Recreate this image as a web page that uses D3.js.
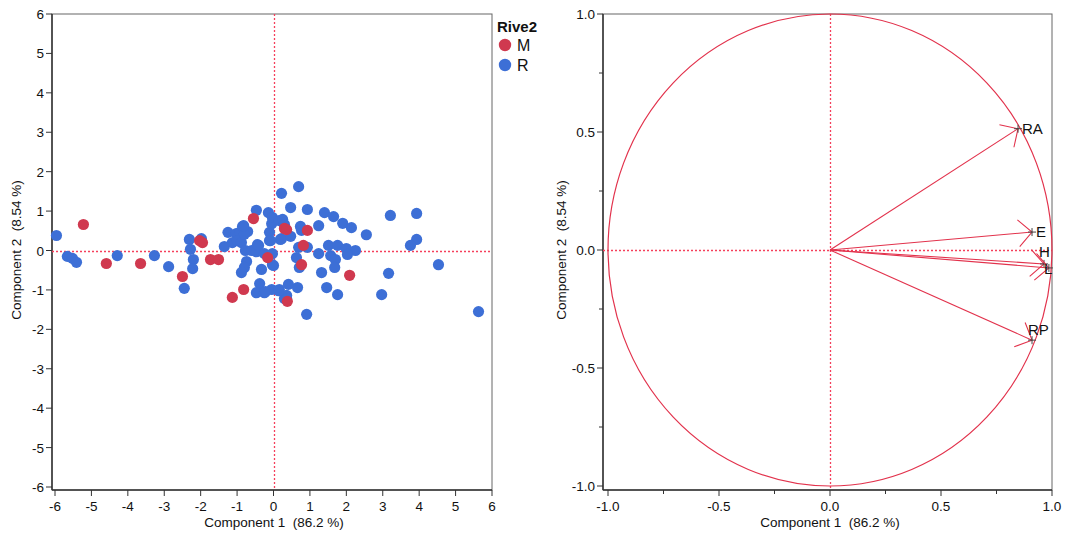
<!DOCTYPE html>
<html>
<head>
<meta charset="utf-8">
<script src="https://cdn.jsdelivr.net/npm/d3@7"></script>
<style>
  body { margin: 0; background: #fff; }
  text { font-family: "Liberation Sans", Arial, sans-serif; fill: #111; white-space: pre; }
</style>
</head>
<body>
<svg id="chart" width="1065" height="533"></svg>
<script>
// score plot data (Component 1, Component 2, Rive2)
var comp1 = [-5.96,-5.66,-5.52,-5.41,-4.29,-3.27,-2.88,-2.45,-2.31,-2.28,-1.98,-2.20,-2.22,-1.25,-1.35,-1.02,-0.93,-0.85,-0.71,-1.13,
  -0.99,-0.88,-0.80,-0.47,-0.14,0.22,-0.77,-0.60,-0.44,-0.47,-0.25,-0.03,-0.11,-0.11,-0.05,-0.03,0.16,0.22,-0.74,-0.80,
  -0.88,-0.33,0.00,-0.38,-0.47,-0.25,-0.05,0.16,0.30,0.69,0.47,0.93,1.40,1.65,1.90,2.14,2.55,3.21,3.93,3.93,
  3.76,4.53,5.63,3.16,2.97,1.24,0.74,0.77,0.47,0.19,0.25,0.30,-0.08,-0.41,0.69,0.93,1.51,1.76,2.00,2.25,
  2.03,1.24,1.57,1.70,0.63,0.71,1.32,1.68,-0.03,1.46,1.76,0.91,0.66,0.41,0.36,0.36,0.14,-0.22,-0.82,
  -5.22,-4.59,-3.65,-2.50,-2.03,-1.95,-1.73,-1.51,-0.55,-0.16,0.30,-0.82,-1.13,0.38,0.36,0.93,0.82,0.77,2.09];
var comp2 = [0.38,-0.15,-0.20,-0.30,-0.13,-0.13,-0.41,-0.96,0.28,0.03,0.30,-0.23,-0.46,0.46,0.10,0.43,0.46,0.61,0.48,0.20,
  0.25,0.20,0.41,1.02,0.96,1.45,0.00,0.00,0.15,-0.03,-0.08,-0.08,0.25,0.46,0.68,0.84,0.76,0.30,-0.28,-0.43,
  -0.56,-0.48,-0.38,-0.84,-1.07,-1.07,-0.99,-0.99,-1.22,1.62,1.09,1.04,0.96,0.86,0.69,0.58,0.40,0.89,0.94,0.28,
  0.13,-0.36,-1.55,-0.58,-1.12,0.63,0.61,0.51,0.36,0.28,0.79,0.66,0.25,0.13,0.08,0.08,0.13,0.13,0.05,0.00,
  -0.10,-0.08,-0.13,-0.23,-0.18,-0.43,-0.56,-0.43,-0.36,-0.94,-1.12,-1.62,-0.94,-0.86,-1.14,-1.22,-1.02,-1.04,0.63,
  0.66,-0.33,-0.33,-0.66,0.25,0.20,-0.23,-0.23,0.81,-0.18,0.56,-0.99,-1.19,-1.29,0.53,0.51,0.13,-0.36,-0.63];
var rive2 = [];
for (var i = 0; i < 99; i++) rive2.push("R");
for (var i = 0; i < 19; i++) rive2.push("M");

var groups = ["M", "R"];
var groupColors = ["#d0394f", "#3d6fd6"];

// loading plot data
var varNames = ["RA", "E", "H", "L", "RP"];
var load1 = [0.847, 0.910, 0.964, 0.986, 0.910];
var load2 = [0.514, 0.076, -0.059, -0.076, -0.382];
var labelDx = [4, 4, -5, -5, -4];
var labelDy = [5, 5, -7, 6, -5];

var tickLeft = [-6,-5,-4,-3,-2,-1,0,1,2,3,4,5,6];
var tickRight = [-1.0,-0.5,0.0,0.5,1.0];
var minorRight = [-0.75,-0.25,0.25,0.75];

var red = "#e2324c";
var dashRed = "#f5405c";
var svg = d3.select("#chart");

function drawFrame(x0, x1, y0, y1) {
  svg.append("rect")
     .attr("x", x0).attr("y", y0)
     .attr("width", x1 - x0).attr("height", y1 - y0)
     .attr("fill", "none").attr("stroke", "#666").attr("stroke-width", 1);
  svg.append("line").attr("x1", x0).attr("x2", x0).attr("y1", y0).attr("y2", y1)
     .attr("stroke", "#333").attr("stroke-width", 1.5);
  svg.append("line").attr("x1", x0).attr("x2", x1).attr("y1", y1).attr("y2", y1)
     .attr("stroke", "#333").attr("stroke-width", 1.5);
}

function drawAxes(x, y, x0, y1, ticks, minor, fmt) {
  var g = svg.append("g");
  g.selectAll(".xt").data(ticks).enter().append("line")
   .attr("x1", d => x(d)).attr("x2", d => x(d))
   .attr("y1", y1).attr("y2", y1 + 6)
   .attr("stroke", "#333");
  g.selectAll(".xl").data(ticks).enter().append("text")
   .attr("x", d => x(d)).attr("y", y1 + 21)
   .attr("text-anchor", "middle").attr("font-size", 13.5)
   .text(fmt);
  g.selectAll(".yt").data(ticks).enter().append("line")
   .attr("x1", x0 - 6).attr("x2", x0)
   .attr("y1", d => y(d)).attr("y2", d => y(d))
   .attr("stroke", "#333");
  g.selectAll(".yl").data(ticks).enter().append("text")
   .attr("x", x0 - 8).attr("y", d => y(d) + 5)
   .attr("text-anchor", "end").attr("font-size", 13.5)
   .text(fmt);
  g.selectAll(".xm").data(minor).enter().append("line")
   .attr("x1", d => x(d)).attr("x2", d => x(d))
   .attr("y1", y1).attr("y2", y1 + 4)
   .attr("stroke", "#333");
  g.selectAll(".ym").data(minor).enter().append("line")
   .attr("x1", x0 - 4).attr("x2", x0)
   .attr("y1", d => y(d)).attr("y2", d => y(d))
   .attr("stroke", "#333");
}

function titles(cx, ty) {
  svg.append("text").attr("x", cx).attr("y", 527)
     .attr("text-anchor", "middle").attr("font-size", 13.5)
     .text("Component 1  (86.2 %)");
  svg.append("text")
     .attr("transform", "translate(" + ty + ",250) rotate(-90)")
     .attr("text-anchor", "middle").attr("font-size", 13.5)
     .text("Component 2  (8.54 %)");
}

function crossLines(x, y, x0, x1, y0, y1) {
  svg.append("line").attr("x1", Math.round(x(0)) + 0.5).attr("x2", Math.round(x(0)) + 0.5).attr("y1", y0).attr("y2", y1)
     .attr("stroke", dashRed).attr("stroke-dasharray", "2,2").attr("stroke-width", 1.3);
  svg.append("line").attr("x1", x0).attr("x2", x1).attr("y1", Math.round(y(0)) + 0.5).attr("y2", Math.round(y(0)) + 0.5)
     .attr("stroke", dashRed).attr("stroke-dasharray", "2,2").attr("stroke-width", 1.3);
}

// ---------- left: score plot ----------
var xL = d3.scaleLinear().domain([-6, 6]).range([55, 492]);
var yL = d3.scaleLinear().domain([-6, 6]).range([487, 14]);

drawFrame(52, 492, 14, 490);
drawAxes(xL, yL, 52, 490, tickLeft, [], d => String(d));
titles(274, 21);
crossLines(xL, yL, 52, 492, 14, 490);

var colorScale = d3.scaleOrdinal().domain(groups).range(groupColors);
var points = comp1.map((d, i) => ({x: d, y: comp2[i], g: rive2[i]}));

svg.append("g").selectAll("circle")
   .data(points)
   .enter()
   .append("circle")
   .attr("cx", d => xL(d.x))
   .attr("cy", d => yL(d.y))
   .attr("r", 5.6)
   .attr("fill", d => colorScale(d.g));

// legend
svg.append("text").attr("x", 497).attr("y", 32)
   .attr("font-size", 15).attr("font-weight", "bold").text("Rive2");
var leg = svg.append("g").selectAll("g").data(groups).enter().append("g")
   .attr("transform", (d, i) => "translate(505," + (45 + i * 20) + ")");
leg.append("circle").attr("r", 6.2).attr("fill", d => colorScale(d));
leg.append("text").attr("x", 12).attr("y", 6).attr("font-size", 16).text(d => d);

// ---------- right: loading plot ----------
var xR = d3.scaleLinear().domain([-1, 1]).range([608, 1052]);
var yR = d3.scaleLinear().domain([-1, 1]).range([486, 14]);

drawFrame(603, 1052, 14, 490);
drawAxes(xR, yR, 603, 490, tickRight, minorRight, d => d.toFixed(1));
titles(830, 566);
crossLines(xR, yR, 603, 1052, 14, 490);

svg.append("ellipse")
   .attr("cx", xR(0)).attr("cy", yR(0))
   .attr("rx", xR(1) - xR(0)).attr("ry", yR(0) - yR(1))
   .attr("fill", "none").attr("stroke", red).attr("stroke-width", 1.2);

var loads = varNames.map((n, i) => ({n: n, x: load1[i], y: load2[i], dx: labelDx[i], dy: labelDy[i]}));
var arrows = svg.append("g").selectAll("g").data(loads).enter().append("g");

arrows.append("line")
   .attr("x1", xR(0)).attr("y1", yR(0))
   .attr("x2", d => xR(d.x)).attr("y2", d => yR(d.y))
   .attr("stroke", red).attr("stroke-width", 1.1);

// open arrow heads
arrows.append("path")
   .attr("d", function(d) {
      var tx = xR(d.x), ty = yR(d.y);
      var a = Math.atan2(yR(0) - ty, xR(0) - tx);
      var len = 19, spread = 0.78;
      var p1 = [tx + len * Math.cos(a - spread), ty + len * Math.sin(a - spread)];
      var p2 = [tx + len * Math.cos(a + spread), ty + len * Math.sin(a + spread)];
      return "M" + p1 + "L" + tx + "," + ty + "L" + p2;
   })
   .attr("fill", "none").attr("stroke", red).attr("stroke-width", 1.1);

arrows.append("path")
   .attr("d", d => "M" + (xR(d.x) - 4) + "," + yR(d.y) + "h8M" + xR(d.x) + "," + (yR(d.y) - 4) + "v8")
   .attr("stroke", "#444").attr("stroke-width", 1);

arrows.append("text")
   .attr("x", d => xR(d.x) + d.dx)
   .attr("y", d => yR(d.y) + d.dy)
   .attr("font-size", 15)
   .text(d => d.n);
</script>
</body>
</html>
